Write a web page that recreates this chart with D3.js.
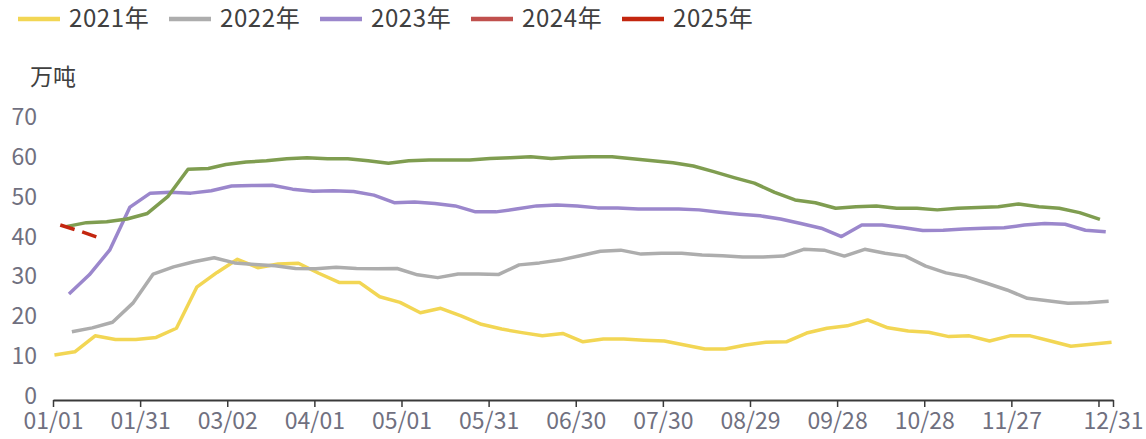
<!DOCTYPE html>
<html>
<head>
<meta charset="utf-8">
<script src="https://cdn.jsdelivr.net/npm/d3@7"></script>
<style>
  body { margin: 0; background: #fff; }
  text { font-family: "Noto Sans CJK SC", "Noto Sans", sans-serif; }
</style>
</head>
<body>
<div id="chart"></div>
<script>
// series
const seriesNames = ["2021年", "2022年", "2023年", "2024年", "2025年"];
const startDates = ["2021-01-01", "2022-01-07", "2023-01-06", "2024-01-05", "2025-01-03"];

const values2021 = [10.8, 11.6, 15.6, 14.7, 14.7, 15.2, 17.5, 27.8, 31.5, 34.8, 32.7, 33.6, 33.8, 31.3,
    29.0, 29.0, 25.4, 24.0, 21.4, 22.5, 20.6, 18.5, 17.3, 16.4, 15.6, 16.2, 14.1, 14.8, 14.8, 14.5,
    14.3, 13.3, 12.3, 12.3, 13.3, 14.0, 14.1, 16.3, 17.5, 18.1, 19.6, 17.6, 16.8, 16.5, 15.4, 15.6,
    14.3, 15.6, 15.6, 14.3, 13.0, 13.5, 14.0];
const values2022 = [16.6, 17.6, 19.0, 23.8, 31.1, 32.9, 34.2, 35.2, 33.9, 33.5, 33.2, 32.5, 32.4,
    32.8, 32.5, 32.4, 32.5, 30.9, 30.2, 31.1, 31.1, 31.0, 33.4, 33.9, 34.6, 35.7, 36.8, 37.1, 36.1,
    36.3, 36.3, 35.9, 35.7, 35.4, 35.4, 35.6, 37.3, 37.1, 35.6, 37.3, 36.3, 35.6, 33.1, 31.4, 30.4,
    28.8, 27.1, 25.0, 24.4, 23.8, 23.9, 24.3];
const values2023 = [26.1, 30.9, 37.1, 47.9, 51.4, 51.6, 51.4, 52.0, 53.2, 53.3, 53.4, 52.4, 51.9,
    52.0, 51.8, 50.9, 49.0, 49.2, 48.8, 48.2, 46.7, 46.7, 47.4, 48.2, 48.4, 48.2, 47.7, 47.7, 47.4,
    47.4, 47.4, 47.2, 46.6, 46.1, 45.7, 44.9, 43.8, 42.6, 40.5, 43.4, 43.4, 42.8, 42.0, 42.1, 42.4,
    42.6, 42.7, 43.4, 43.8, 43.6, 42.1, 41.7];
const values2024 = [43.0, 44.0, 44.2, 44.9, 46.3, 50.5, 57.4, 57.6, 58.6, 59.2, 59.5, 60.0, 60.3,
    60.0, 60.0, 59.5, 58.9, 59.5, 59.7, 59.7, 59.7, 60.1, 60.3, 60.5, 60.1, 60.4, 60.5, 60.5, 60.0,
    59.5, 59.0, 58.2, 56.8, 55.3, 53.9, 51.6, 49.7, 49.0, 47.6, 48.0, 48.2, 47.6, 47.6, 47.2, 47.6,
    47.8, 48.0, 48.7, 48.0, 47.6, 46.5, 44.8];
const values2025 = [43.4, 41.8, 40.0];

const seriesValues = [values2021, values2022, values2023, values2024, values2025];
const legendColors = ["#F2D654", "#ADADAD", "#9B87CC", "#C0504D", "#C3260F"];
const lineColors = ["#F2D654", "#ADADAD", "#9B87CC", "#7F9D50", "#C3260F"];
const lineDashes = [null, null, null, null, "15,8"];

// axes
const yTicks = [0, 10, 20, 30, 40, 50, 60, 70];
const xTickDays = [0, 30, 60, 90, 120, 150, 180, 210, 240, 270, 300, 330, 360, 365];
const xTickLabels = ["01/01", "01/31", "03/02", "04/01", "05/01", "05/31", "06/30", "07/30",
    "08/29", "09/28", "10/28", "11/27", "", "12/31"];
const unitLabel = "万吨";

const width = 1146;
const height = 439;

const svg = d3.select("#chart")
    .append("svg")
    .attr("width", width)
    .attr("height", height);

const xScale = d3.scaleLinear().domain([0, 365]).range([53, 1113]);
const yScale = d3.scaleLinear().domain([0, 70]).range([398, 119]);

// weekly dates are placed by month/day on one shared year
const refStart = new Date(2021, 0, 1);
function dayOfYear(date) {
    const ref = new Date(2021, date.getMonth(), date.getDate());
    return d3.timeDay.count(refStart, ref);
}

const parseDate = d3.timeParse("%Y-%m-%d");
const series = seriesValues.map((vals, s) => {
    const start = parseDate(startDates[s]);
    return vals.map((v, i) => ({
        day: dayOfYear(d3.timeDay.offset(start, i * 7)) + 0.5,
        value: v,
    }));
});

// x axis
const xAxis = svg.append("g")
    .attr("transform", "translate(0,400)")
    .call(d3.axisBottom(xScale)
        .tickValues(xTickDays)
        .tickFormat((d, i) => xTickLabels[i])
        .tickSize(7)
        .tickSizeOuter(0));
xAxis.select(".domain").attr("stroke", "#3a3a3a").attr("stroke-width", 2);
xAxis.selectAll(".tick line").attr("stroke", "#3a3a3a").attr("stroke-width", 1.5);
xAxis.selectAll(".tick text")
    .attr("y", 13)
    .attr("fill", "#70707f")
    .style("font-size", "23px");

// y labels, no axis line
svg.append("g")
    .selectAll("text")
    .data(yTicks)
    .enter().append("text")
    .attr("x", 37)
    .attr("y", d => yScale(d) - 2)
    .attr("dy", "0.35em")
    .attr("text-anchor", "end")
    .attr("fill", "#70707f")
    .style("font-size", "23px")
    .text(d => d);

svg.append("text")
    .attr("x", 30)
    .attr("y", 77)
    .attr("dy", "0.35em")
    .attr("fill", "#404040")
    .style("font-size", "23px")
    .text(unitLabel);

// lines
const line = d3.line()
    .x(d => xScale(d.day))
    .y(d => yScale(d.value));

svg.append("g")
    .selectAll("path")
    .data(series)
    .enter().append("path")
    .attr("fill", "none")
    .attr("stroke", (d, i) => lineColors[i])
    .attr("stroke-width", 3.5)
    .attr("stroke-linejoin", "round")
    .attr("stroke-dasharray", (d, i) => lineDashes[i])
    .attr("d", line);

// legend
const legend = svg.append("g")
    .selectAll("g")
    .data(seriesNames)
    .enter().append("g")
    .attr("transform", (d, i) => `translate(${18 + i * 151},19)`);

legend.append("line")
    .attr("x1", 0)
    .attr("x2", 42)
    .attr("stroke", (d, i) => legendColors[i])
    .attr("stroke-width", 4.5);

legend.append("text")
    .attr("x", 51)
    .attr("dy", "0.35em")
    .attr("fill", "#404040")
    .style("font-size", "24px")
    .style("letter-spacing", "0.6px")
    .text(d => d);
</script>
</body>
</html>
